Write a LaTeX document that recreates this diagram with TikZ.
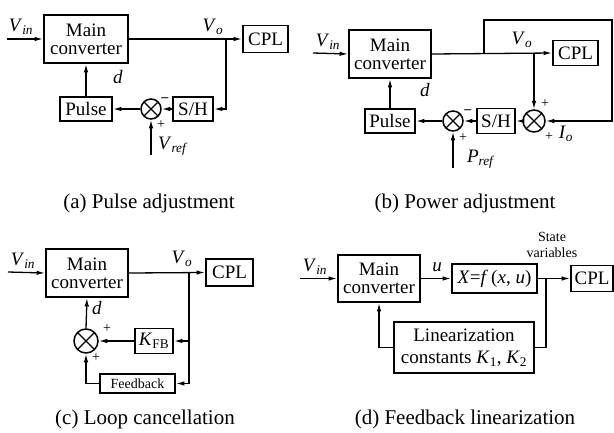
\documentclass[tikz,border=0pt]{standalone}
\usepackage{fontspec}
\setmainfont{Liberation Serif}
\usetikzlibrary{arrows.meta,calc}
\newcommand{\isub}[2]{\textit{#1}\textsubscript{\textit{#2}}}
\begin{document}
\begin{tikzpicture}[x=1pt,y=-1pt,
  blk/.style={draw, line width=1.9pt, inner sep=0pt, align=center, font=\fontsize{19}{18}\selectfont},
  sumc/.style={circle, draw, line width=1.5pt, inner sep=0pt, minimum size=#1,
     path picture={\draw[line width=1.3pt] (path picture bounding box.north west) -- (path picture bounding box.south east)
       (path picture bounding box.north east) -- (path picture bounding box.south west);}},
  conn/.style={line width=1.3pt},
  arr/.style={conn, -{Latex[length=8.5pt,width=4.5pt]}},
  lbl/.style={inner sep=0pt, font=\fontsize{19}{18}\selectfont},
  pm/.style={inner sep=0pt, font=\fontsize{14}{14}\selectfont},
  captxt/.style={inner sep=0pt, font=\fontsize{21}{21}\selectfont}]
\useasboundingbox (0,0) rectangle (614,432);

% ---------------- (a) ----------------
\node[blk, minimum width=84pt, minimum height=48pt] (mca) at (86,39) {Main\\converter};
\node[blk, minimum width=45pt, minimum height=27pt] (cpla) at (265.5,39) {CPL};
\node[blk, minimum width=40pt, minimum height=24pt] (sha) at (193,109) {S/H};
\node[sumc=20pt] (suma) at (151,109) {};
\node[blk, minimum width=52pt, minimum height=24pt] (pula) at (86,109) {Pulse};
\coordinate (vina) at (7,39);
\coordinate (bra) at (226,39);
\coordinate (vrefa) at (151,155);
\draw[arr] (vina) -- (mca.west);
\draw[arr] (mca.east) -- (cpla.west);
\draw[arr] (bra) |- (sha.east);
\draw[arr] (sha.west) -- (suma.east);
\draw[arr] (suma.west) -- (pula.east);
\draw[arr] (pula.north) -- (mca.south);
\draw[arr] (vrefa) -- (suma.south);
\node[lbl] (lvina) at (21,27) {\isub{V}{in}};
\node[lbl] (lvoa) at (213,27) {\isub{V}{o}};
\node[lbl] (lda) at (118,77) {\textit{d}};
\node[pm] (ma) at (165,100) {\textbf{--}};
\node[pm] (pa) at (161,125) {+};
\node[lbl] (lvrefa) at (173,146) {\isub{V}{ref}};
\node[captxt] (capa) at (149,203) {(a) Pulse adjustment};

% ---------------- (b) ----------------
\node[blk, minimum width=82pt, minimum height=48pt] (mcb) at (390,54) {Main\\converter};
\node[blk, minimum width=45pt, minimum height=25pt] (cplb) at (575.5,53) {CPL};
\node[blk, minimum width=38pt, minimum height=25pt] (shb) at (496,121) {S/H};
\node[sumc=20pt] (sumb) at (453,121) {};
\node[sumc=22pt] (sumb2) at (534,121) {};
\node[blk, minimum width=50pt, minimum height=24pt] (pulb) at (390,121) {Pulse};
\coordinate (vinb) at (313,53);
\coordinate (brb1) at (484,53);
\coordinate (brb2) at (534,53);
\coordinate (topb) at (612,20);
\coordinate (prefb) at (453,168);
\draw[arr] (vinb) -- (mcb.west);
\draw[arr] (mcb.east) -- (cplb.west);
\draw[arr] (brb1) |- (topb) |- (sumb2.east);
\draw[arr] (brb2) -- (sumb2.north);
\draw[arr] (sumb2.west) -- (shb.east);
\draw[arr] (shb.west) -- (sumb.east);
\draw[arr] (sumb.west) -- (pulb.east);
\draw[arr] (pulb.north) -- (mcb.south);
\draw[arr] (prefb) -- (sumb.south);
\node[lbl] (lvinb) at (328,42) {\isub{V}{in}};
\node[lbl] (lvob) at (522,40) {\isub{V}{o}};
\node[lbl] (ldb) at (425,90) {\textit{d}};
\node[pm] (mb) at (468,112) {\textbf{--}};
\node[pm] (pb) at (463,138) {+};
\node[pm] (pb2) at (545,104) {+};
\node[pm] (pb3) at (549,137) {+};
\node[lbl] (liob) at (566,134) {\isub{I}{o}};
\node[lbl] (lprefb) at (481,159) {\isub{P}{ref}};
\node[captxt] (capb) at (465,203) {(b) Power adjustment};

% ---------------- (c) ----------------
\node[blk, minimum width=82pt, minimum height=48pt] (mcc) at (87,273) {Main\\converter};
\node[blk, minimum width=47pt, minimum height=27pt] (cplc) at (229.5,272.5) {CPL};
\node[blk, minimum width=38pt, minimum height=25pt] (kfb) at (154,341) {\textit{K}\textsubscript{FB}};
\node[sumc=24pt] (sumc1) at (86,341) {};
\node[blk, minimum width=75pt, minimum height=19pt, font=\fontsize{14}{14}\selectfont] (fbc) at (137.5,383.5) {Feedback};
\coordinate (vinc) at (8,272);
\coordinate (brc) at (189,272);
\coordinate (brc2) at (189,341);
\coordinate (brc3) at (189,383.5);
\draw[arr] (vinc) -- (mcc.west);
\draw[arr] (mcc.east) -- (cplc.west);
\draw[conn] (brc) -- (brc3);
\draw[arr] (brc2) -- (kfb.east);
\draw[arr] (brc3) -- (fbc.east);
\draw[arr] (kfb.west) -- (sumc1.east);
\draw[arr] (fbc.west) -| (sumc1.south);
\draw[arr] (sumc1.north) -- (mcc.south);
\node[lbl] (lvinc) at (23,261) {\isub{V}{in}};
\node[lbl] (lvoc) at (182,259) {\isub{V}{o}};
\node[lbl] (ldc) at (97,308) {\textit{d}};
\node[pm] (pc1) at (107,329) {+};
\node[pm] (pc2) at (96,358) {+};
\node[captxt] (capc) at (145,419) {(c) Loop cancellation};

% ---------------- (d) ----------------
\node[blk, minimum width=82pt, minimum height=47pt] (mcd) at (379,278.5) {Main\\converter};
\node[blk, minimum width=85pt, minimum height=29pt] (xd) at (494.5,278.5) {\textit{X}=\textit{f}\,(\textit{x}, \textit{u})};
\node[blk, minimum width=42pt, minimum height=26pt] (cpld) at (592,278.5) {CPL};
\node[blk, minimum width=140pt, minimum height=51pt, font=\fontsize{19}{22}\selectfont] (lind) at (464,347.5) {Linearization\\constants \textit{K}\textsubscript{1}, \textit{K}\textsubscript{2}};
\coordinate (vind) at (300,278.5);
\coordinate (brd) at (546,278.5);
\coordinate (fbd) at (379,347.5);
\draw[arr] (vind) -- (mcd.west);
\draw[arr] (mcd.east) -- (xd.west);
\draw[arr] (xd.east) -- (cpld.west);
\draw[conn] (brd) |- (lind.east);
\draw[arr] (lind.west) -| (mcd.south);
\node[lbl] (lvind) at (315,267) {\isub{V}{in}};
\node[lbl] (lud) at (437,267) {\textit{u}};
\node[inner sep=0pt, align=center, font=\fontsize{14}{16}\selectfont] (svd) at (552,245) {State\\variables};
\node[captxt] (capd) at (465,419) {(d) Feedback linearization};
\end{tikzpicture}
\end{document}
